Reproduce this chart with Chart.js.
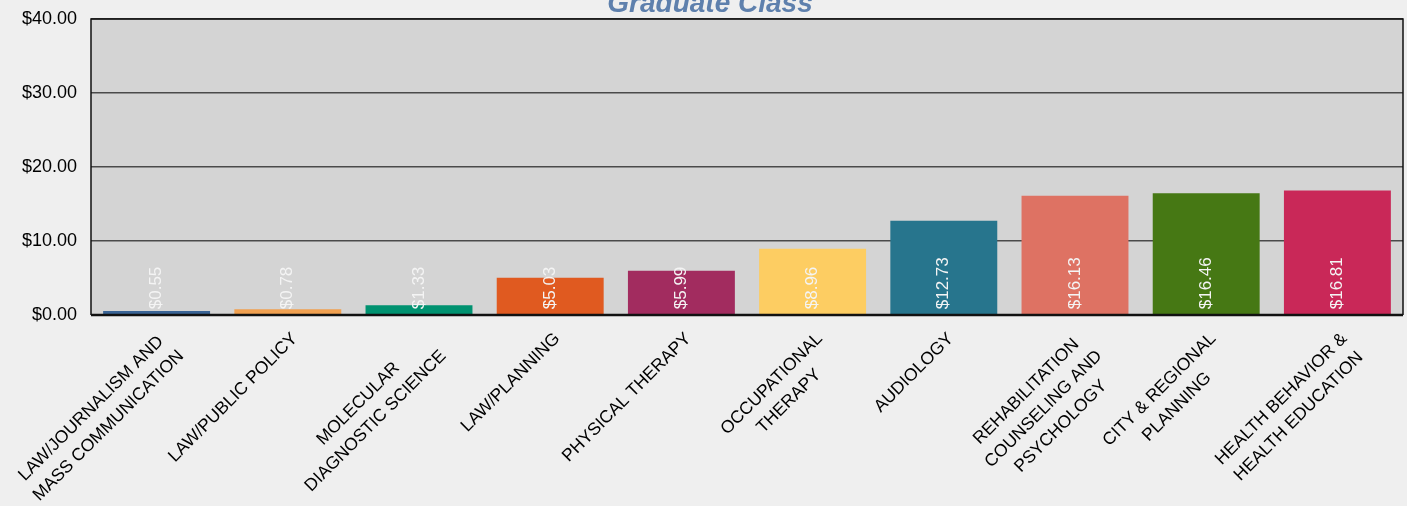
<!DOCTYPE html>
<html>
<head>
<meta charset="utf-8">
<script src="https://cdn.jsdelivr.net/npm/chart.js@4/dist/chart.umd.min.js"></script>
<style>
  html, body { margin: 0; padding: 0; background: #efefef; }
  #wrap { width: 1407px; height: 506px; }
</style>
</head>
<body>
<div id="wrap"><canvas id="bar-chartcanvas"></canvas></div>
<script>
var programs = [
  ["LAW/JOURNALISM AND", "MASS COMMUNICATION"],
  ["LAW/PUBLIC POLICY"],
  ["MOLECULAR", "DIAGNOSTIC SCIENCE"],
  ["LAW/PLANNING"],
  ["PHYSICAL THERAPY"],
  ["OCCUPATIONAL", "THERAPY"],
  ["AUDIOLOGY"],
  ["REHABILITATION", "COUNSELING AND", "PSYCHOLOGY"],
  ["CITY & REGIONAL", "PLANNING"],
  ["HEALTH BEHAVIOR &", "HEALTH EDUCATION"]
];
var costs = [0.55, 0.78, 1.33, 5.03, 5.99, 8.96, 12.73, 16.13, 16.46, 16.81];
var barColors = ["#3a6496", "#f0a050", "#009270", "#e05a20", "#a22c5f",
                 "#fdcd62", "#27758d", "#de7263", "#467814", "#c92858"];
var yTicks = [0, 10, 20, 30, 40];

var chartTitle = "Graduate Class";
var fontFam = "'Liberation Sans', Arial, sans-serif";

function money(v) { return "$" + v.toFixed(2); }

// grey plot box, black frame, cut-off title, category labels and white value labels
var decorPlugin = {
  id: "decor",
  beforeDraw: function (chart) {
    var c = chart.ctx, a = chart.chartArea;
    c.save();
    c.fillStyle = "#efefef";
    c.fillRect(0, 0, chart.width, chart.height);
    c.fillStyle = "#d4d4d4";
    c.fillRect(a.left, a.top, a.right - a.left, a.bottom - a.top);
    c.restore();
  },
  afterDraw: function (chart) {
    var c = chart.ctx, a = chart.chartArea;
    c.save();
    c.strokeStyle = "#111";
    c.lineWidth = 1.5;
    c.beginPath();
    c.moveTo(a.left, a.bottom);
    c.lineTo(a.left, a.top);
    c.lineTo(a.right, a.top);
    c.lineTo(a.right, a.bottom);
    c.stroke();
    c.lineWidth = 2.5;
    c.beginPath();
    c.moveTo(a.left, a.bottom);
    c.lineTo(a.right, a.bottom);
    c.stroke();

    // title, partly above the canvas like the original
    c.fillStyle = "#5e80ad";
    c.font = "italic bold 28px " + fontFam;
    c.textAlign = "center";
    c.textBaseline = "alphabetic";
    c.fillText(chartTitle, 710, 12);

    // x category labels: 45 degrees, lines centred on each other
    var xs = chart.scales.x;
    c.fillStyle = "#000";
    c.font = "17.5px " + fontFam;
    c.textAlign = "center";
    c.textBaseline = "middle";
    programs.forEach(function (lines, i) {
      var px = xs.getPixelForTick(i);
      var w = 0;
      lines.forEach(function (l) { w = Math.max(w, c.measureText(l).width); });
      c.save();
      c.translate(px + 7, a.bottom + 21);
      c.rotate(-Math.PI / 4);
      lines.forEach(function (l, j) {
        c.fillText(l, -w / 2, j * 24.5);
      });
      c.restore();
    });
    c.restore();
  },
  afterDatasetsDraw: function (chart) {
    var c = chart.ctx;
    var meta = chart.getDatasetMeta(0);
    c.save();
    c.fillStyle = "#f4f4f4";
    c.font = "17px " + fontFam;
    c.textAlign = "left";
    c.textBaseline = "middle";
    meta.data.forEach(function (bar, i) {
      c.save();
      c.translate(bar.x, bar.base - 5);
      c.rotate(-Math.PI / 2);
      c.fillText(money(costs[i]), 0, 0);
      c.restore();
    });
    c.restore();
  }
};

var ctx = document.getElementById("bar-chartcanvas");
var bar = new Chart(ctx, {
  type: "bar",
  data: {
    labels: programs,
    datasets: [{
      label: "Cost",
      data: costs,
      backgroundColor: barColors,
      borderWidth: 0,
      barPercentage: 0.815,
      categoryPercentage: 1
    }]
  },
  options: {
    responsive: true,
    maintainAspectRatio: false,
    animation: false,
    devicePixelRatio: 1,
    layout: { padding: { top: 19, right: 4, left: 0, bottom: 0 } },
    plugins: {
      legend: { display: false },
      title: { display: false },
      tooltip: { enabled: false }
    },
    scales: {
      x: {
        grid: { display: false, drawTicks: false },
        border: { display: false },
        ticks: { display: false, autoSkip: false },
        afterFit: function (scale) { scale.height = 191; }
      },
      y: {
        min: 0,
        max: 40,
        afterBuildTicks: function (scale) {
          scale.ticks = yTicks.map(function (v) { return { value: v }; });
        },
        grid: { color: "#4a4a4a", lineWidth: 1.5, drawTicks: false },
        border: { display: false },
        ticks: {
          padding: 14,
          color: "#000",
          font: { family: fontFam, size: 18 },
          callback: function (v) { return money(v); }
        },
        afterFit: function (scale) {
          scale.width = 91;
          scale.paddingTop = 0;
          scale.paddingBottom = 0;
        }
      }
    }
  },
  plugins: [decorPlugin]
});
</script>
</body>
</html>
